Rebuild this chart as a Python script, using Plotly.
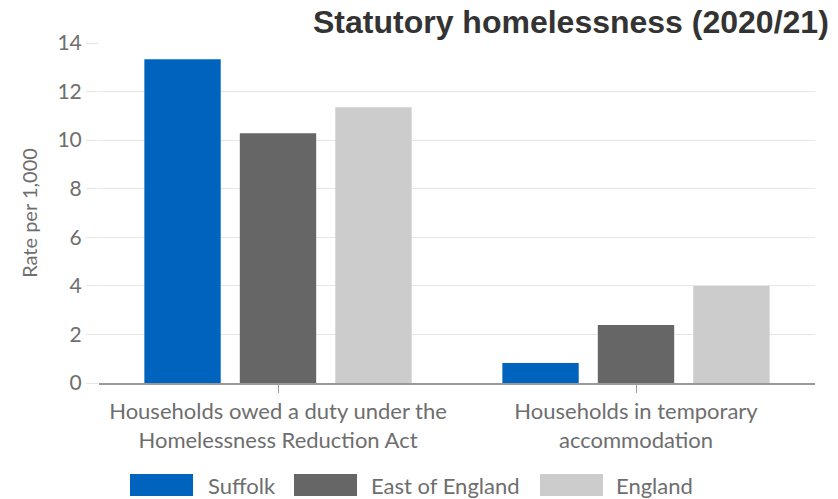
import plotly.graph_objects as go

categories = ["Households owed a duty under the<br>Homelessness Reduction Act",
              "Households in temporary<br>accommodation"]
series_names = ["Suffolk", "East of England", "England"]
suffolk = [13.33, 0.82]
east_of_england = [10.28, 2.39]
england = [11.35, 3.99]
colors = ["#0063BE", "#666666", "#CCCCCC"]
y_ticks = [0, 2, 4, 6, 8, 10, 12, 14]

W, H = 838, 499
L, R, T, B = 99, 23, 43, 116
pw, ph = W - L - R, H - T - B
TEXT = "#6E6E6E"

def px_x(p):
    return (p - L) / pw

def px_y(p):
    return (H - B - p) / ph

fig = go.Figure()
for name, vals, col in zip(series_names, [suffolk, east_of_england, england], colors):
    fig.add_trace(go.Bar(x=categories, y=vals, name=name,
                         marker=dict(color=col, line=dict(width=0))))

# custom legend (large swatches like the reference)
legend_swatch_left = [130, 294, 540]
legend_text_left = [206, 369, 614]
sw_w, sw_h, leg_cy = 63, 22, 485
shapes = []
annotations = []
for name, col, sx, tx in zip(series_names, colors, legend_swatch_left, legend_text_left):
    shapes.append(dict(type="rect", xref="paper", yref="paper",
                       x0=px_x(sx), x1=px_x(sx + sw_w),
                       y0=px_y(leg_cy + sw_h / 2), y1=px_y(leg_cy - sw_h / 2),
                       fillcolor=col, line=dict(width=0)))
    annotations.append(dict(text=name, xref="paper", yref="paper",
                            x=px_x(tx), y=px_y(leg_cy), xanchor="left", yanchor="middle",
                            showarrow=False,
                            font=dict(family="Lato", size=22, color=TEXT)))

fig.update_layout(
    width=W, height=H,
    margin=dict(l=L, r=R, t=T, b=B),
    paper_bgcolor="white", plot_bgcolor="white",
    barmode="group", bargap=0.2, bargroupgap=0.2,
    title=dict(text="<b>Statutory homelessness (2020/21)</b>",
               font=dict(family="Liberation Sans", size=32, color="#333333"),
               x=0.989, xanchor="right", y=0.956, yanchor="middle"),
    font=dict(family="Lato", size=20, color=TEXT),
    showlegend=False,
    shapes=shapes,
    annotations=annotations,
)
fig.update_xaxes(showline=True, linecolor="#999999", linewidth=1.5,
                 ticks="outside", ticklen=8, tickcolor="#999999",
                 tickfont=dict(family="Lato", size=22, color=TEXT))
fig.update_yaxes(range=[0, 14], tickvals=y_ticks, showgrid=True, gridcolor="#E6E6E6",
                 ticks="outside", ticklen=12, tickcolor="#E6E6E6", zeroline=False,
                 showline=False,
                 tickfont=dict(family="Lato", size=21, color=TEXT),
                 title=dict(text="Rate per 1,000",
                            font=dict(family="Lato", size=20, color=TEXT),
                            standoff=14))
fig.write_html("out.html")
